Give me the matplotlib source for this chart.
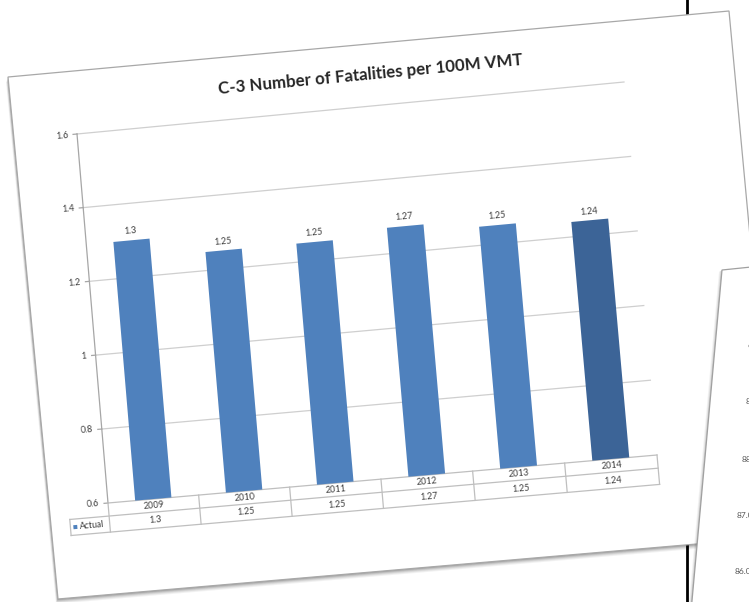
import matplotlib
matplotlib.use("Agg")
import matplotlib.pyplot as plt
import matplotlib.transforms as mtransforms
from matplotlib.patches import Polygon
import numpy as np

# chart values
years = ['2009', '2010', '2011', '2012', '2013', '2014']
actual = [1.3, 1.25, 1.25, 1.27, 1.25, 1.24]
value_text = ['1.3', '1.25', '1.25', '1.27', '1.25', '1.24']
y_ticks = [0.6, 0.8, 1.0, 1.2, 1.4, 1.6]
y_tick_text = ['0.6', '0.8', '1', '1.2', '1.4', '1.6']
series_name = 'Actual'
title = 'C-3 Number of Fatalities per 100M VMT'

# second slide peeking in from the right
side_ticks = ['90.00', '89.00', '88.00', '87.00', '86.00']

W, H = 749, 602
BAR = '#4F81BD'
BAR_LAST = '#3C6497'
GRID = '#CFCFCF'
TEXT = '#404040'

# flat chart frame: one category = 92 px, plot height 369 px
CAT_W = 92.0
PLOT_H = 369.0
YMIN, YMAX = 0.6, 1.6


def homography(src, dst):
    A, b = [], []
    for (x, y), (u, v) in zip(src, dst):
        A.append([x, y, 1, 0, 0, 0, -u * x, -u * y]); b.append(u)
        A.append([0, 0, 0, x, y, 1, -v * x, -v * y]); b.append(v)
    h = np.linalg.solve(np.array(A, float), np.array(b, float))
    return np.append(h, 1.0).reshape(3, 3)


class Projective(mtransforms.Transform):
    input_dims = output_dims = 2

    def __init__(self, M):
        super().__init__()
        self.M = M

    def transform_non_affine(self, values):
        v = np.asarray(values, float).reshape(-1, 2)
        p = np.column_stack([v, np.ones(len(v))]) @ self.M.T
        return p[:, :2] / p[:, 2:3]

    def inverted(self):
        return Projective(np.linalg.inv(self.M))


# plot-area corners in the flat frame -> where they land on the tilted page
flat_w = CAT_W * len(years)
M = homography([(0, 0), (flat_w, 0), (0, PLOT_H), (flat_w, PLOT_H)],
               [(77, 134), (624, 82), (108, 503), (657, 455)])
proj = Projective(M)

fig = plt.figure(figsize=(W / 100, H / 100), dpi=100)
ax = fig.add_axes([0, 0, 1, 1])
ax.set_xlim(0, W)
ax.set_ylim(H, 0)
ax.set_autoscale_on(False)
ax.axis('off')

flat_tr = proj + ax.transData
# data (category index, value) -> flat frame
data_to_flat = mtransforms.Affine2D().scale(CAT_W, -PLOT_H / (YMAX - YMIN)) \
    .translate(CAT_W / 2, PLOT_H * YMAX / (YMAX - YMIN))
chart_tr = data_to_flat + flat_tr


def to_px(fx, fy):
    return proj.transform([(fx, fy)])[0]


def put(fx, fy, s, size=6.5, color=TEXT, ha='center', va='center', **kw):
    p = to_px(fx, fy)
    q = to_px(fx + 20, fy)
    ang = np.degrees(np.arctan2(-(q[1] - p[1]), q[0] - p[0]))
    ax.text(p[0], p[1], s, rotation=ang, rotation_mode='anchor', ha=ha, va=va,
            fontsize=size, color=color, family=['Lato', 'DejaVu Sans'], **kw)


def flat_y(v):
    return (YMAX - v) * PLOT_H / (YMAX - YMIN)


# page outlines (image pixels)
page1 = [(8, 77), (729, 11), (778, 537), (58, 599)]
page2 = [(722, 270), (800, 262), (800, 700), (683, 700)]

# black rule behind the pages
ax.plot([687, 687], [0, 40], color='black', lw=2, zorder=1)
ax.plot([687, 687], [520, H], color='black', lw=2, zorder=1)

# soft drop shadow under the first page
for i, a in enumerate([0.05, 0.06, 0.08, 0.10, 0.12]):
    off = 5 - i
    sh = [(x - off * 0.4, y + off) for x, y in page1]
    ax.add_patch(Polygon(sh, closed=True, fc='black', ec='none', alpha=a, zorder=2))
ax.add_patch(Polygon(page1, closed=True, fc='white', ec='#A8A8A8', lw=0.9, zorder=3))

# gridlines and left axis
n = len(years)
for v in y_ticks[1:]:
    ax.plot([-0.5, n - 0.5], [v, v], color=GRID, lw=0.9, transform=chart_tr, zorder=4)
ax.plot([-0.5, -0.5], [YMIN, YMAX], color='#A6A6A6', lw=0.9, transform=chart_tr, zorder=5)
for v, s in zip(y_ticks, y_tick_text):
    fy = flat_y(v)
    ax.plot([-4, 0], [fy, fy], color='#A6A6A6', lw=0.9, transform=flat_tr, zorder=5)
    put(-9, fy, s, ha='right')

# bars
colors = [BAR] * (n - 1) + [BAR_LAST]
ax.bar(range(n), [a - YMIN for a in actual], width=0.4, bottom=YMIN,
       color=colors, linewidth=0, transform=chart_tr, zorder=6)
for i, (a, s) in enumerate(zip(actual, value_text)):
    put((i + 0.5) * CAT_W, flat_y(a) - 9, s)

# data table under the plot
row1, row2, row3 = PLOT_H, PLOT_H + 13, PLOT_H + 29
leg_x = -40
tbl = '#BFBFBF'
ax.plot([0, flat_w], [row1, row1], color=tbl, lw=0.9, transform=flat_tr, zorder=5)
ax.plot([leg_x, flat_w], [row2, row2], color=tbl, lw=0.9, transform=flat_tr, zorder=5)
ax.plot([leg_x, flat_w], [row3, row3], color=tbl, lw=0.9, transform=flat_tr, zorder=5)
ax.plot([leg_x, leg_x], [row2, row3], color=tbl, lw=0.9, transform=flat_tr, zorder=5)
for k in range(n + 1):
    ax.plot([k * CAT_W, k * CAT_W], [row1, row3], color=tbl, lw=0.9,
            transform=flat_tr, zorder=5)
for i, (yr, s) in enumerate(zip(years, value_text)):
    put((i + 0.5) * CAT_W, (row1 + row2) / 2, yr)
    put((i + 0.5) * CAT_W, (row2 + row3) / 2, s)
key = np.array([(-37, 0), (-33, 0), (-33, 4), (-37, 4)], float) + [0, (row2 + row3) / 2 - 2]
ax.add_patch(Polygon(key, closed=True, fc=BAR, ec='none', transform=flat_tr, zorder=6))
put(-31, (row2 + row3) / 2, series_name, ha='left', size=6.3)

# chart title
put(300, -31, title, size=12.2, color='#262626', weight='bold')

# second page on top, with its shadow
for i, a in enumerate([0.05, 0.07, 0.10]):
    off = 3 - i
    sh = [(x - off, y + off * 0.5) for x, y in page2]
    ax.add_patch(Polygon(sh, closed=True, fc='black', ec='none', alpha=a, zorder=8))
ax.add_patch(Polygon(page2, closed=True, fc='white', ec='#A0A0A0', lw=0.9, zorder=9))
for (x, y), s in zip([(748, 347), (746, 402), (742, 459), (737, 515), (735, 572)], side_ticks):
    ax.text(x, y, s, fontsize=6, color='#595959', ha='left', va='center',
            family=['Lato', 'DejaVu Sans'], zorder=10)

fig.savefig('out.png', dpi=100)
